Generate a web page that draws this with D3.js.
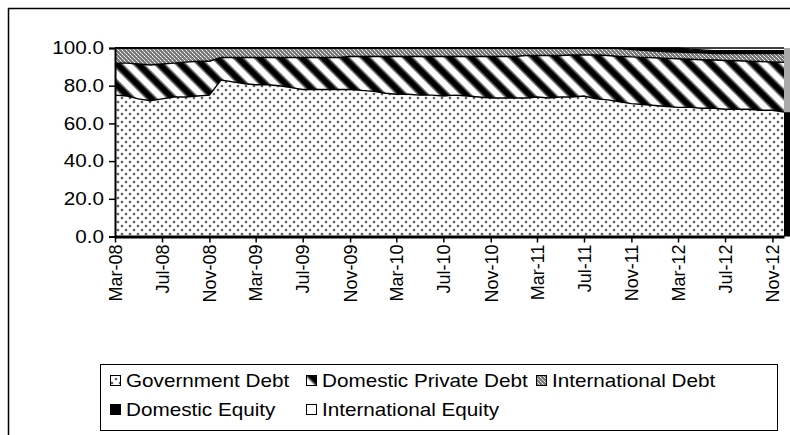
<!DOCTYPE html>
<html>
<head>
<meta charset="utf-8">
<script src="https://cdn.jsdelivr.net/npm/d3@7"></script>
<style>
  body { margin: 0; background: #fff; }
  text { font-family: "Liberation Sans", Arial, sans-serif; fill: #000; }
</style>
</head>
<body>
<div id="viz"></div>
<script>
var months = ["Mar-08","Apr-08","May-08","Jun-08","Jul-08","Aug-08","Sep-08","Oct-08","Nov-08","Dec-08",
  "Jan-09","Feb-09","Mar-09","Apr-09","May-09","Jun-09","Jul-09","Aug-09","Sep-09","Oct-09","Nov-09","Dec-09",
  "Jan-10","Feb-10","Mar-10","Apr-10","May-10","Jun-10","Jul-10","Aug-10","Sep-10","Oct-10","Nov-10","Dec-10",
  "Jan-11","Feb-11","Mar-11","Apr-11","May-11","Jun-11","Jul-11","Aug-11","Sep-11","Oct-11","Nov-11","Dec-11",
  "Jan-12","Feb-12","Mar-12","Apr-12","May-12","Jun-12","Jul-12","Aug-12","Sep-12","Oct-12","Nov-12","Dec-12"];

var governmentDebt = [75,74.5,73,72,73,74,74,74.5,75,83,
  82,81,80.5,80.5,80,79,78,78,78,78,78,77.5,
  77,76,75.5,75.5,75,75,74.5,75,74.5,74,73.5,73.5,
  73.5,73.5,74,73.5,74,74,74.5,73,72.5,71.5,70.5,70,
  69.5,69,68.5,68.5,68,68,67.5,67.5,67.5,67,67,66];

var domesticPrivateDebt = [17,17.5,18.5,19,18.5,18,18.5,18.5,18,12,
  13,14,14.5,14.5,15,16,17,17,17,17,17.5,18,
  18.5,19.5,20,20,20.5,20.5,21,20.5,21,21.5,22,22,
  22,22.5,22,22.5,22,22.3,21.8,23.3,23.5,24,24.8,25,
  25.3,25.5,25.8,25.5,25.8,25.6,25.9,25.7,25.5,25.8,25.6,26.4];

var internationalDebt = [8,8,8.5,9,8.5,8,7.5,7,7,5,
  5,5,5,5,5,5,5,5,5,5,4.5,4.5,
  4.5,4.5,4.5,4.5,4.5,4.5,4.5,4.5,4.5,4.5,4.5,4.5,
  4.5,4,4,4,4,3.7,3.7,3.7,4,4.2,3.9,3.8,
  3.6,3.5,3.5,3.6,3.6,3.5,3.7,3.9,4.1,4.3,4.5,4.7];

var domesticEquity = [0,0,0,0,0,0,0,0,0,0,
  0,0,0,0,0,0,0,0,0,0,0,0,
  0,0,0,0,0,0,0,0,0,0,0,0,
  0,0,0,0,0,0,0,0,0,0.3,0.8,1.2,
  1.6,2,2.2,1.8,1.6,1.5,1.5,1.5,1.5,1.5,1.5,1.5];

var internationalEquity = [0,0,0,0,0,0,0,0,0,0,
  0,0,0,0,0,0,0,0,0,0,0,0,
  0,0,0,0,0,0,0,0,0,0,0,0,
  0,0,0,0,0,0,0,0,0,0,0,0,
  0,0,0,0.6,1,1.4,1.4,1.4,1.4,1.4,1.4,1.4];

// the sliver cut off at the right edge of the picture
var edgeColumn = [66, 34];

var seriesNames = ["Government Debt","Domestic Private Debt","International Debt","Domestic Equity","International Equity"];
var yTicks = [0,20,40,60,80,100];
var xTickLabels = ["Mar-08","Jul-08","Nov-08","Mar-09","Jul-09","Nov-09","Mar-10","Jul-10","Nov-10",
  "Mar-11","Jul-11","Nov-11","Mar-12","Jul-12","Nov-12"];

var w = 790, h = 435;
var stretch = 1.15; // horizontal text in the original is drawn a bit wide
var parse = d3.timeParse("%b-%y");

var rows = months.map(function(m, i) {
  return {
    date: parse(m),
    "Government Debt": governmentDebt[i],
    "Domestic Private Debt": domesticPrivateDebt[i],
    "International Debt": internationalDebt[i],
    "Domestic Equity": domesticEquity[i],
    "International Equity": internationalEquity[i]
  };
});

var svg = d3.select("#viz").append("svg")
  .attr("width", w)
  .attr("height", h);

// patterns
var defs = svg.append("defs");

var dots = defs.append("pattern").attr("id", "dots")
  .attr("patternUnits", "userSpaceOnUse").attr("width", 8).attr("height", 8);
dots.append("rect").attr("width", 8).attr("height", 8).attr("fill", "#fff");
[[2,2],[6,6]].forEach(function(p) {
  dots.append("circle").attr("cx", p[0]).attr("cy", p[1]).attr("r", 1.6).attr("fill", "#bbb");
  dots.append("circle").attr("cx", p[0]).attr("cy", p[1]).attr("r", 0.9).attr("fill", "#333");
});

var stripes = defs.append("pattern").attr("id", "stripes")
  .attr("patternUnits", "userSpaceOnUse").attr("width", 15).attr("height", 15)
  .attr("patternTransform", "rotate(-45)");
stripes.append("rect").attr("width", 15).attr("height", 15).attr("fill", "#fff");
stripes.append("rect").attr("x", 3).attr("width", 9).attr("height", 15).attr("fill", "#888");
stripes.append("rect").attr("x", 4.5).attr("width", 6).attr("height", 15).attr("fill", "#000");

var checker = defs.append("pattern").attr("id", "checker")
  .attr("patternUnits", "userSpaceOnUse").attr("width", 4).attr("height", 4);
checker.append("rect").attr("width", 4).attr("height", 4).attr("fill", "#7a7a7a");
checker.append("rect").attr("x", 0).attr("y", 0).attr("width", 1).attr("height", 1).attr("fill", "#fff");
checker.append("rect").attr("x", 2).attr("y", 2).attr("width", 1).attr("height", 1).attr("fill", "#fff");
checker.append("rect").attr("x", 1).attr("y", 1).attr("width", 1).attr("height", 1).attr("fill", "#c8c8c8");
checker.append("rect").attr("x", 3).attr("y", 3).attr("width", 1).attr("height", 1).attr("fill", "#c8c8c8");

var fills = {
  "Government Debt": "url(#dots)",
  "Domestic Private Debt": "url(#stripes)",
  "International Debt": "url(#checker)",
  "Domestic Equity": "#000",
  "International Equity": "#fff"
};

// outer frame
svg.append("rect")
  .attr("x", 8.5).attr("y", 8.5)
  .attr("width", w + 20).attr("height", h + 20)
  .attr("fill", "none").attr("stroke", "#000").attr("stroke-width", 1.5);

var x = d3.scaleTime()
  .domain([parse("Mar-08"), parse("Dec-12")])
  .range([115, 784]);
var y = d3.scaleLinear().domain([0, 100]).range([236.5, 48]);

var stack = d3.stack().keys(seriesNames);
var layers = stack(rows);

var area = d3.area()
  .x(function(d) { return x(d.data.date); })
  .y0(function(d) { return y(d[0]); })
  .y1(function(d) { return y(d[1]); });

var topLine = d3.line()
  .x(function(d) { return x(d.data.date); })
  .y(function(d) { return y(d[1]); });

svg.selectAll("path.layer")
  .data(layers)
  .enter().append("path")
  .attr("class", "layer")
  .attr("d", area)
  .attr("fill", function(d) { return fills[d.key]; });

svg.selectAll("path.edge")
  .data(layers.slice(0, 4))
  .enter().append("path")
  .attr("class", "edge")
  .attr("d", topLine)
  .attr("fill", "none")
  .attr("stroke", "#000")
  .attr("stroke-width", 1.4);

// cut-off column at the right edge
var edgeStack = [0, edgeColumn[0], edgeColumn[0] + edgeColumn[1]];
svg.selectAll("rect.edgecol")
  .data(edgeColumn)
  .enter().append("rect")
  .attr("class", "edgecol")
  .attr("x", x(parse("Dec-12")))
  .attr("width", w - x(parse("Dec-12")))
  .attr("y", function(d, i) { return y(edgeStack[i + 1]); })
  .attr("height", function(d, i) { return y(edgeStack[i]) - y(edgeStack[i + 1]); })
  .attr("fill", function(d, i) { return i == 0 ? "#000" : "#aaa"; });

// top border line of the plot
svg.append("line")
  .attr("x1", 115).attr("x2", x(parse("Dec-12")))
  .attr("y1", y(100)).attr("y2", y(100))
  .attr("stroke", "#000").attr("stroke-width", 1.5);

// axes
var yAxis = d3.axisLeft(y)
  .tickValues(yTicks)
  .tickFormat(d3.format(".1f"))
  .tickSize(6);

var gy = svg.append("g")
  .attr("transform", "translate(115,0)")
  .call(yAxis);
gy.select(".domain").attr("stroke-width", 2);
gy.selectAll("line").attr("stroke-width", 1.5);
gy.selectAll("text")
  .style("font-size", "18px")
  .style("font-family", "Liberation Sans, Arial, sans-serif")
  .attr("x", -11 / stretch)
  .attr("transform", "scale(" + stretch + ",1)");

var xAxis = d3.axisBottom(x)
  .tickValues(xTickLabels.map(parse))
  .tickFormat(d3.timeFormat("%b-%y"))
  .tickSizeInner(6)
  .tickSizeOuter(0);

var gx = svg.append("g")
  .attr("transform", "translate(0," + y(0) + ")")
  .call(xAxis);
gx.select(".domain").attr("stroke-width", 3);
gx.selectAll("line").attr("stroke-width", 1.5);
gx.selectAll("text")
  .style("font-size", "18px")
  .style("font-family", "Liberation Sans, Arial, sans-serif")
  .attr("text-anchor", "end")
  .attr("dy", "0.35em")
  .attr("transform", "rotate(-90)")
  .attr("x", -8)
  .attr("y", 0);

// legend
var legend = svg.append("g");
legend.append("rect")
  .attr("x", 100.5).attr("y", 364.5)
  .attr("width", 677).attr("height", 66)
  .attr("fill", "#fff").attr("stroke", "#000").attr("stroke-width", 1);

var legendPos = [[110, 381], [306, 381], [536, 381], [110, 410], [306, 410]];

var items = legend.selectAll("g.item")
  .data(seriesNames)
  .enter().append("g")
  .attr("class", "item")
  .attr("transform", function(d, i) { return "translate(" + legendPos[i][0] + "," + legendPos[i][1] + ")"; });

items.append("rect")
  .attr("x", 0.5).attr("y", -5.5)
  .attr("width", 10).attr("height", 10)
  .attr("fill", function(d) { return fills[d]; })
  .attr("stroke", "#000").attr("stroke-width", 1);

items.append("text")
  .attr("x", 16 / stretch)
  .attr("y", 0)
  .attr("dy", "0.35em")
  .attr("transform", "scale(" + stretch + ",1)")
  .style("font-size", "18px")
  .text(function(d) { return d; });
</script>
</body>
</html>
